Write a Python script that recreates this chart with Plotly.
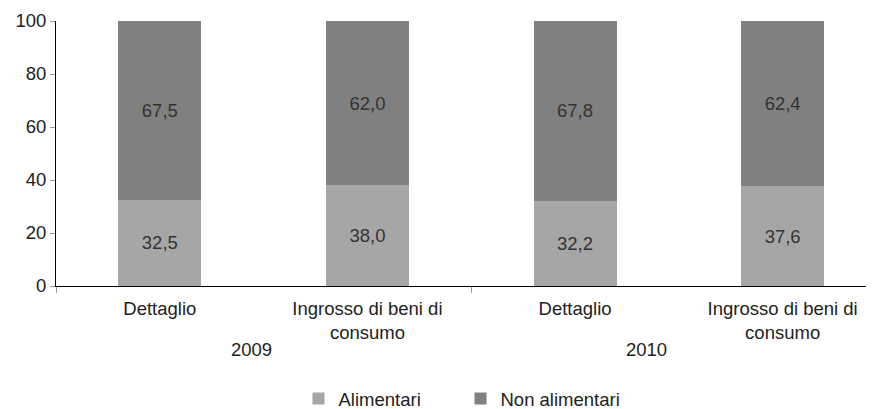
import plotly.graph_objects as go

categories = ["Dettaglio", "Ingrosso di beni di<br>consumo", "Dettaglio", "Ingrosso di beni di<br>consumo"]
years = ["2009", "2010"]
alimentari = [32.5, 38.0, 32.2, 37.6]
non_alimentari = [67.5, 62.0, 67.8, 62.4]
y_ticks = [0, 20, 40, 60, 80, 100]

FONT = "Liberation Sans, Arial, sans-serif"
FS = 18.5
x = list(range(len(categories)))

# page body has an 8px margin, so the figure is drawn 8px smaller and offset
W, H = 866, 401

fig = go.Figure()
fig.add_trace(go.Bar(
    x=x, y=alimentari, name="Alimentari", marker=dict(color="#a6a6a6", line=dict(width=0)),
    width=0.4, texttemplate="%{y:.1f}", textposition="inside",
    insidetextanchor="middle", textfont=dict(size=FS, color="#333333", family=FONT),
))
fig.add_trace(go.Bar(
    x=x, y=non_alimentari, name="Non alimentari", marker=dict(color="#808080", line=dict(width=0)),
    width=0.4, texttemplate="%{y:.1f}", textposition="inside",
    insidetextanchor="middle", textfont=dict(size=FS, color="#333333", family=FONT),
))

fig.update_layout(
    width=W, height=H,
    barmode="stack",
    separators=",.",
    font=dict(family=FONT, size=FS, color="#222222"),
    margin=dict(l=48, r=0, t=13, b=123, autoexpand=False),
    plot_bgcolor="white", paper_bgcolor="white",
    showlegend=True,
    legend=dict(orientation="h", x=452.5 / W, xref="container", xanchor="center",
                y=10 / H, yref="container", yanchor="middle",
                traceorder="normal",
                entrywidth=117, entrywidthmode="pixels",
                font=dict(size=FS, color="#222222")),
    xaxis=dict(
        range=[-0.5, 3.44], tickvals=x, ticktext=categories, automargin=False,
        showline=True, linecolor="black", linewidth=1, ticks="",
        showgrid=False, zeroline=False, ticklabelstandoff=6,
        minor=dict(tick0=-0.5, dtick=2, ticks="outside", ticklen=6, tickcolor="#999999", showgrid=False),
    ),
    yaxis=dict(
        range=[0, 100], tickvals=y_ticks, showline=True, linecolor="black", linewidth=1,
        automargin=False,
        ticks="outside", ticklen=5, tickcolor="#999999", showgrid=False, zeroline=False,
    ),
)

year_pos = [0.44, 2.345]
for yr, xp in zip(years, year_pos):
    fig.add_annotation(x=xp, xref="x", y=-(349 - 286) / 265, yref="paper",
                       text=yr, showarrow=False, yanchor="middle",
                       font=dict(size=FS, color="#222222"))

fig.write_html("out.html")
